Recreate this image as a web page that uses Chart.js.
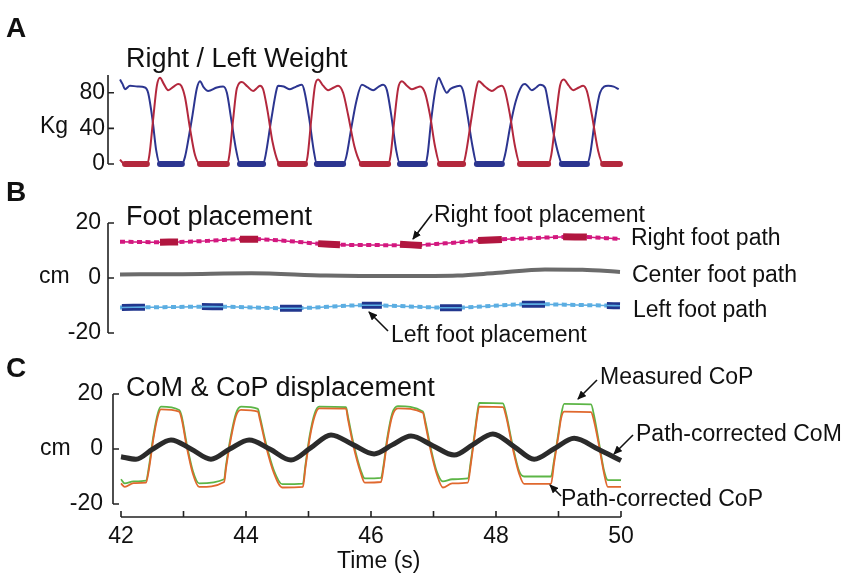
<!DOCTYPE html>
<html>
<head>
<meta charset="utf-8">
<script src="https://cdn.jsdelivr.net/npm/chart.js@4/dist/chart.umd.min.js"></script>
<style>
  body { margin: 0; background: #fff; }
  #wrap { position: relative; width: 854px; height: 579px; overflow: hidden; font-family: "Liberation Sans", Arial, sans-serif; color: #111; }
  canvas { position: absolute; left: 0; top: 0; }
  svg { position: absolute; left: 0; top: 0; }
  .t { position: absolute; white-space: nowrap; line-height: 1; font-size: 23px; }
  .ttl { font-size: 27px; }
  .lbl { font-size: 28px; font-weight: bold; }
</style>
</head>
<body>
<div id="wrap">
  <canvas id="chartA" width="854" height="579"></canvas>
  <canvas id="chartB" width="854" height="579"></canvas>
  <canvas id="chartC" width="854" height="579"></canvas>

  <svg width="854" height="579">
    <defs>
      <marker id="ah" markerWidth="9" markerHeight="8" refX="8" refY="4" orient="auto" markerUnits="userSpaceOnUse">
        <path d="M0,0 L9,4 L0,8 z" fill="#111"/>
      </marker>
    </defs>
    <g stroke="#111" stroke-width="1.6" marker-end="url(#ah)">
      <line x1="432" y1="214" x2="413" y2="239"/>
      <line x1="388" y1="331" x2="369" y2="312"/>
      <line x1="597" y1="380" x2="578" y2="399"/>
      <line x1="633" y1="435" x2="614" y2="454"/>
      <line x1="561" y1="496" x2="550" y2="485"/>
    </g>
  </svg>

  <div class="t lbl" style="left:6px;top:14px">A</div>
  <div class="t ttl" style="left:126px;top:45px">Right / Left Weight</div>
  <div class="t" style="left:40px;top:114px">Kg</div>

  <div class="t lbl" style="left:6px;top:178px">B</div>
  <div class="t ttl" style="left:126px;top:203px">Foot placement</div>
  <div class="t" style="left:39px;top:264px">cm</div>
  <div class="t" style="left:434px;top:203px">Right foot placement</div>
  <div class="t" style="left:631px;top:226px">Right foot path</div>
  <div class="t" style="left:632px;top:263px">Center foot path</div>
  <div class="t" style="left:633px;top:298px">Left foot path</div>
  <div class="t" style="left:391px;top:323px">Left foot placement</div>

  <div class="t lbl" style="left:6px;top:354px">C</div>
  <div class="t ttl" style="left:126px;top:374px">CoM &amp; CoP displacement</div>
  <div class="t" style="left:40px;top:436px">cm</div>
  <div class="t" style="left:600px;top:365px">Measured CoP</div>
  <div class="t" style="left:636px;top:422px">Path-corrected CoM</div>
  <div class="t" style="left:561px;top:487px">Path-corrected CoP</div>
  <div class="t" style="left:337px;top:549px">Time (s)</div>
</div>

<script>
// ---- ticks ----
const timeTicks = [42, 43, 44, 45, 46, 47, 48, 49, 50];
const timeLabelled = [42, 44, 46, 48, 50];
const kgTicks = [0, 20, 40, 60, 80, 100];
const kgLabelled = [0, 40, 80];
const cmTicks = [-20, -10, 0, 10, 20];
const cmLabelled = [-20, 0, 20];

// ---- A: right / left weight (kg) ----
const rightWeightTime = [
  42.00, 42.05, 42.08, 42.43,
  42.47, 42.53, 42.59, 42.64, 42.70, 42.77, 42.86, 42.93, 42.98, 43.04, 43.12, 43.20, 43.28,
  43.71, 43.75, 43.81, 43.87, 43.95, 44.04, 44.13, 44.20, 44.24, 44.29, 44.36, 44.44, 44.53, 44.56,
  44.96, 45.00, 45.06, 45.12, 45.17, 45.25, 45.33, 45.42, 45.49, 45.57, 45.65, 45.75, 45.84, 45.87,
  46.29, 46.33, 46.39, 46.45, 46.51, 46.59, 46.67, 46.75, 46.80, 46.88, 46.96, 47.04, 47.12,
  47.49, 47.53, 47.62, 47.71, 47.74, 47.84, 47.95, 48.04, 48.11, 48.16, 48.24, 48.32, 48.40,
  48.85, 48.90, 48.97, 49.04, 49.10, 49.18, 49.25, 49.34, 49.41, 49.47, 49.55, 49.65, 49.73, 50.00
];
const rightWeightKg = [
  5, 1, 0, 0,
  10, 50, 88, 97, 90, 83, 87, 90, 88, 75, 40, 10, 0,
  0, 10, 50, 85, 92, 87, 82, 86, 88, 84, 60, 25, 2, 0,
  0, 8, 50, 88, 95, 88, 83, 86, 88, 80, 55, 20, 2, 0,
  0, 10, 50, 85, 93, 88, 84, 86, 87, 80, 55, 20, 0,
  0, 10, 50, 88, 93, 87, 82, 86, 88, 82, 55, 20, 0,
  0, 10, 50, 88, 95, 88, 83, 86, 88, 82, 55, 15, 0, 0
];
const leftWeightTime = [
  42.00, 42.04, 42.08, 42.16, 42.28, 42.40, 42.45, 42.52, 42.58, 42.64,
  42.99, 43.04, 43.10, 43.16, 43.23, 43.28, 43.34, 43.41, 43.55, 43.65, 43.71, 43.78, 43.86, 43.92,
  44.29, 44.33, 44.42, 44.51, 44.53, 44.62, 44.72, 44.82, 44.91, 44.95, 45.03, 45.10, 45.15,
  45.57, 45.62, 45.70, 45.78, 45.87, 45.96, 46.05, 46.14, 46.21, 46.27, 46.34, 46.42, 46.48,
  46.88, 46.92, 46.98, 47.05, 47.10, 47.15, 47.23, 47.28, 47.33, 47.44, 47.49, 47.56, 47.64, 47.71,
  48.11, 48.16, 48.25, 48.33, 48.43, 48.48, 48.59, 48.66, 48.72, 48.80, 48.86, 48.95, 49.04, 49.07,
  49.47, 49.52, 49.60, 49.68, 49.81, 49.90, 49.98
];
const leftWeightKg = [
  95, 90, 84, 88, 87, 86, 80, 50, 15, 0,
  0, 8, 30, 55, 85, 93, 86, 82, 86, 87, 80, 50, 15, 0,
  0, 10, 50, 85, 88, 87, 84, 87, 89, 82, 50, 15, 0,
  0, 8, 40, 70, 89, 86, 83, 87, 89, 83, 55, 15, 0,
  0, 10, 50, 85, 97, 90, 80, 84, 86, 88, 82, 55, 20, 0,
  0, 10, 45, 70, 88, 90, 83, 86, 89, 86, 65, 30, 5, 0,
  0, 10, 50, 80, 88, 87, 84
];
// swing phases (zero weight), drawn thick
const rightSwingStart = [42.08, 43.28, 44.56, 45.87, 47.12, 48.40, 49.73];
const rightSwingEnd   = [42.43, 43.71, 44.96, 46.29, 47.49, 48.85, 50.00];
const leftSwingStart  = [42.64, 43.92, 45.15, 46.48, 47.71, 49.07];
const leftSwingEnd    = [42.99, 44.29, 45.57, 46.88, 48.11, 49.47];

// ---- B: foot placement (cm) ----
const rightPathTime = [42.0, 42.75, 43.4, 44.08, 44.7, 45.36, 45.95, 46.64, 47.2, 47.89, 48.6, 49.25, 50.0];
const rightPathCm   = [13.2, 13.0, 13.5, 14.2, 13.4, 12.2, 12.0, 11.9, 12.6, 13.8, 14.5, 15.0, 14.2];
const centerPathTime = [42.0, 43.0, 44.1, 45.3, 46.5, 47.4, 48.0, 48.8, 49.4, 50.0];
const centerPathCm   = [1.3, 1.4, 1.7, 0.9, 0.7, 0.9, 1.8, 3.1, 3.0, 2.2];
const leftPathTime = [42.0, 42.7, 43.44, 44.72, 45.95, 47.28, 48.61, 49.3, 50.0];
const leftPathCm   = [-10.7, -10.6, -10.4, -11.0, -9.9, -10.8, -9.5, -9.8, -10.1];

const rightPlaceStart = [42.64, 43.92, 45.17, 46.48, 47.73, 49.09];
const rightPlaceEnd   = [42.93, 44.21, 45.52, 46.83, 48.11, 49.47];
const rightPlaceFrom  = [13.0, 14.1, 12.5, 12.3, 13.6, 15.0];
const rightPlaceTo    = [13.1, 14.1, 12.1, 11.8, 14.0, 14.9];
const leftPlaceStart = [42.03, 43.31, 44.56, 45.87, 47.12, 48.43, 49.79];
const leftPlaceEnd   = [42.40, 43.65, 44.91, 46.19, 47.47, 48.80, 50.00];
const leftPlaceFrom  = [-10.7, -10.4, -11.0, -9.9, -10.8, -9.5, -10.0];
const leftPlaceTo    = [-10.6, -10.45, -11.0, -9.9, -10.8, -9.5, -10.1];

// ---- C: CoM & CoP (cm) ----
const copTime = [
  42.00, 42.06, 42.20, 42.40, 42.45, 42.52, 42.59, 42.64, 42.93, 42.97, 43.05, 43.15, 43.25,
  43.65, 43.68, 43.76, 43.84, 43.92, 44.19, 44.22, 44.32, 44.45, 44.58,
  44.91, 44.95, 45.02, 45.10, 45.17, 45.60, 45.63, 45.72, 45.84, 45.90,
  46.16, 46.20, 46.26, 46.34, 46.43, 46.83, 46.87, 46.96, 47.05, 47.15, 47.30,
  47.55, 47.60, 47.66, 47.70, 47.73, 48.11, 48.16, 48.26, 48.37, 48.45,
  48.88, 48.93, 49.00, 49.04, 49.09, 49.52, 49.57, 49.65, 49.73, 49.79, 50.00
];
const measuredCop = [
  -11.0, -12.5, -11.8, -11.5, -6, 5, 13, 15.4, 14.2, 12, 2, -8, -12.5,
  -11, -6, 5, 13, 15.4, 14.6, 12, 2, -8, -12.8,
  -12.6, -6, 5, 13, 15.4, 15.2, 12, 2, -8, -10.7,
  -10.5, -6, 4, 13, 15.6, 13.6, 10, 0, -8, -11.8, -11,
  -10.7, -4, 6, 13, 16.8, 16.6, 13, 2, -8, -10,
  -10, -4, 6, 12, 16.4, 16.2, 12, 2, -8, -11.3, -11.3
];
const correctedCop = [
  -12.5, -13.8, -12.4, -12.2, -7, 4, 12, 14.4, 13.6, 11, 1, -9, -13.8,
  -12, -7, 4, 12, 14.2, 13.6, 11, 1, -9, -14,
  -13.8, -7, 4, 12, 14.8, 14.7, 11, 1, -9, -12.2,
  -12, -7, 3, 12, 14.8, 13.2, 9, -1, -9, -14, -12.5,
  -12.2, -5, 5, 12, 15.4, 15.2, 12, 1, -9, -12.7,
  -12.7, -5, 5, 11, 13.6, 13.4, 10, 1, -9, -13.8, -13.8
];
const comTime = [42.0, 42.24, 42.51, 42.80, 43.12, 43.44, 43.74, 44.05, 44.38, 44.72, 45.04, 45.36, 45.71,
  46.05, 46.34, 46.64, 46.99, 47.33, 47.63, 47.95, 48.29, 48.61, 48.93, 49.25, 49.63, 50.0];
const correctedCom = [-2.8, -3.7, 0, 3.3, 0, -3.7, 0, 3.3, 0, -4.0, 0.5, 5.1, 1.6,
  -1.8, 1.5, 4.7, 1.2, -2.2, 1.6, 5.5, 0.9, -3.7, 0.1, 3.9, 0, -4.2];

// ---- helpers ----
const ink = '#111';
const tickFont = { family: '"Liberation Sans", Arial, sans-serif', size: 23 };

function pts(t, v) {
  return t.map((x, i) => ({ x: x, y: v[i] }));
}
// separate segments, broken by a null point
function segs(t0, t1, v0, v1) {
  const out = [];
  t0.forEach((a, i) => {
    if (i) out.push({ x: (t1[i - 1] + a) / 2, y: null });
    out.push({ x: a, y: v0 ? v0[i] : 0 }, { x: t1[i], y: v1 ? v1[i] : 0 });
  });
  return out;
}
function line(data, color, width, extra) {
  return Object.assign({ data: data, borderColor: color, borderWidth: width, pointRadius: 0,
    fill: false, spanGaps: false, clip: false, cubicInterpolationMode: 'monotone' }, extra || {});
}

// matlab-like axes: inward ticks, lines only over the tick range
const axesPlugin = {
  id: 'axes',
  afterDraw(chart, args, opts) {
    const { ctx, chartArea, scales: { x, y } } = chart;
    ctx.save();
    ctx.strokeStyle = '#222';
    ctx.lineWidth = 1.6;
    ctx.beginPath();
    const lx = chartArea.left;
    ctx.moveTo(lx, y.getPixelForValue(y.min));
    ctx.lineTo(lx, y.getPixelForValue(y.max));
    y.ticks.forEach(t => {
      const py = y.getPixelForValue(t.value);
      ctx.moveTo(lx, py);
      ctx.lineTo(lx + 6, py);
    });
    if (opts.xGap) {
      const ly = chartArea.bottom + opts.xGap;
      ctx.moveTo(x.getPixelForValue(timeTicks[0]), ly);
      ctx.lineTo(x.getPixelForValue(timeTicks[timeTicks.length - 1]), ly);
      x.ticks.forEach(t => {
        const px = x.getPixelForValue(t.value);
        ctx.moveTo(px, ly);
        ctx.lineTo(px, ly - 6);
      });
    }
    ctx.stroke();
    ctx.restore();
  }
};

function panel(id, datasets, o) {
  return new Chart(document.getElementById(id), {
    type: 'line',
    data: { datasets: datasets },
    options: {
      responsive: false,
      animation: false,
      devicePixelRatio: 1,
      layout: { padding: o.padding },
      plugins: { legend: { display: false }, tooltip: { enabled: false }, axes: o.axes || {} },
      scales: {
        x: Object.assign({
          type: 'linear', min: o.xMin, max: 50,
          display: !!o.showX,
          grid: { display: false, drawTicks: false },
          border: { display: false }
        }, o.x || {}),
        y: {
          type: 'linear', min: o.yTicks[0], max: o.yTicks[o.yTicks.length - 1],
          afterFit: s => { s.width = o.yWidth; },
          afterBuildTicks: s => { s.ticks = o.yTicks.map(v => ({ value: v })); },
          grid: { display: false, drawTicks: false },
          border: { display: false },
          ticks: { padding: o.yPad, font: tickFont, color: ink,
            callback: v => (o.yLabelled.includes(v) ? String(v) : '') }
        }
      }
    },
    plugins: [axesPlugin]
  });
}

// ---- A ----
const red = '#b3283d', blue = '#2c3590';
panel('chartA', [
  line(segs(rightSwingStart, rightSwingEnd), red, 6, { borderCapStyle: 'round' }),
  line(segs(leftSwingStart, leftSwingEnd), blue, 6, { borderCapStyle: 'round' }),
  line(pts(rightWeightTime, rightWeightKg), red, 2),
  line(pts(leftWeightTime, leftWeightKg), blue, 2)
], {
  padding: { left: 0, top: 75, right: 234, bottom: 415 },
  xMin: 41.808, yWidth: 108, yPad: 3, yTicks: kgTicks, yLabelled: kgLabelled
});

// ---- B ----
const magenta = '#d3187f', darkRed = '#b1163f', sky = '#5caee2', navy = '#22378e';
panel('chartB', [
  line(segs(rightPlaceStart, rightPlaceEnd, rightPlaceFrom, rightPlaceTo), darkRed, 7),
  line(pts(rightPathTime, rightPathCm), magenta, 4, { borderDash: [5, 3.5] }),
  line(pts(rightPathTime, rightPathCm), magenta, 1.5),
  line(pts(centerPathTime, centerPathCm), '#6b6b6b', 4),
  line(segs(leftPlaceStart, leftPlaceEnd, leftPlaceFrom, leftPlaceTo), sky, 1.6),
  line(segs(leftPlaceStart, leftPlaceEnd, leftPlaceFrom, leftPlaceTo), navy, 7),
  line(pts(leftPathTime, leftPathCm), sky, 4, { borderDash: [5, 3.5] }),
  line(pts(leftPathTime, leftPathCm), sky, 1.5)
], {
  padding: { left: 0, top: 223, right: 234, bottom: 246 },
  xMin: 41.808, yWidth: 108, yPad: 7, yTicks: cmTicks, yLabelled: cmLabelled
});

// ---- C ----
panel('chartC', [
  line(pts(comTime, correctedCom), '#2b2b2b', 5),
  line(pts(copTime, correctedCop), '#e0682e', 1.8),
  line(pts(copTime, measuredCop), '#5cb546', 1.8)
], {
  padding: { left: 0, top: 394, right: 233, bottom: 0 },
  xMin: 41.872, yWidth: 113, yPad: 10, yTicks: cmTicks, yLabelled: cmLabelled,
  showX: true,
  axes: { xGap: 13 },
  x: {
    afterFit: s => { s.height = 75; },
    afterBuildTicks: s => { s.ticks = timeTicks.map(v => ({ value: v })); },
    ticks: { padding: 19, font: tickFont, color: ink, maxRotation: 0, autoSkip: false,
      callback: v => (timeLabelled.includes(v) ? String(v) : '') }
  }
});
</script>
</body>
</html>
